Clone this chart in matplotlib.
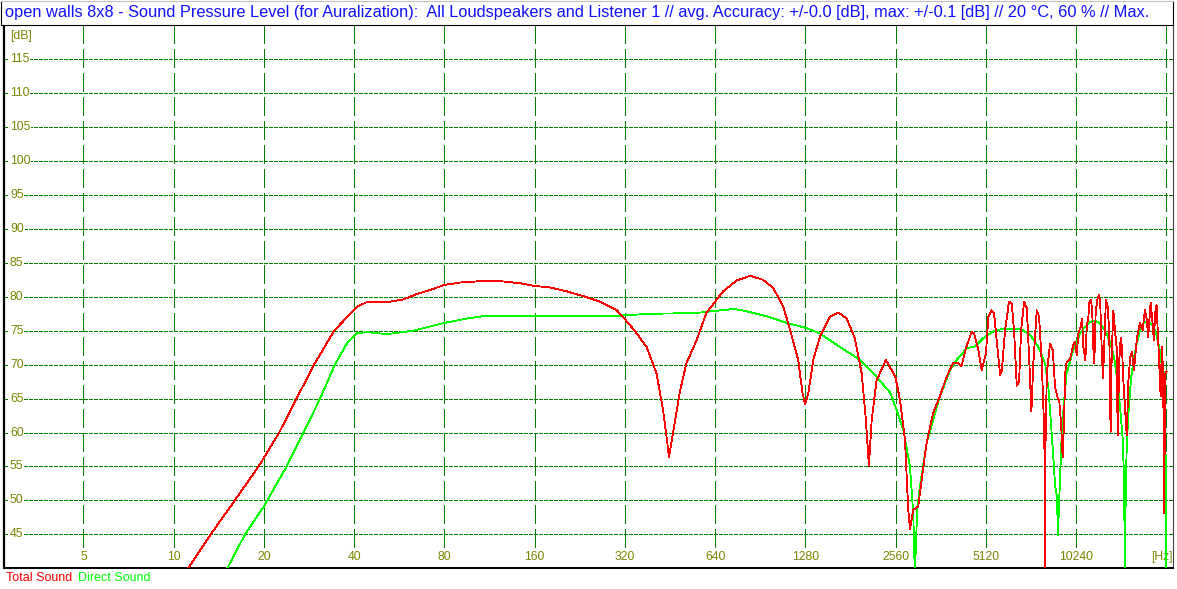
import numpy as np
import matplotlib
matplotlib.use("Agg")
import matplotlib.pyplot as plt

plt.rcParams['font.family'] = ['Liberation Sans', 'DejaVu Sans']
plt.rcParams['lines.scale_dashes'] = False

# --- data (Hz, dB) ---
total_freq = [11.0, 13.3, 16.0, 19.2, 22.5, 25.7, 29.4, 34.3, 40.8, 44.0,
              51.4, 58.3, 64.7, 71.6, 80, 90.2, 105, 123, 143, 160,
              179, 205, 232, 264, 301, 320, 345, 378, 408, 429,
              442, 449, 463, 487, 513, 555, 598, 640, 680, 755,
              837, 925, 1000, 1079, 1138, 1211, 1252, 1277, 1309, 1360,
              1431, 1548, 1648, 1757, 1871, 1972, 2037, 2085, 2129, 2212,
              2375, 2555, 2646, 2750, 2820, 2857, 2930, 3045, 3125, 3245,
              3411, 3593, 3787, 3982, 4138, 4246, 4393, 4590, 4674, 4830,
              4958, 5124, 5217, 5354, 5450, 5564, 5710, 5784, 5931, 6115,
              6243, 6357, 6490, 6606, 6708, 6865, 7010, 7150, 7260, 7370,
              7565, 7700, 7865, 7990, 8045, 8058, 8068, 8175, 8380, 8555,
              8710, 8865, 9000, 9130, 9230, 9330, 9410, 9515, 9760, 10016,
              10150, 10283, 10413, 10603, 10710, 10820, 10990, 11110, 11250, 11335,
              11485, 11590, 11680, 11770, 11895, 12045, 12200, 12320, 12455, 12580,
              12700, 12870, 13040, 13200, 13340, 13450, 13620, 13800, 13970, 14090,
              14260, 14420, 14560, 14710, 15100, 15300, 15500, 15700, 15970, 16220,
              16430, 16710, 17060, 17370, 17590, 17810, 18140, 18420, 18600, 18790,
              18990, 19230, 19380, 19590, 19780, 19980, 20130, 20290, 20525]
total_db = [39.5, 45.0, 50.0, 55.0, 60.0, 65.0, 70.0, 75.0, 78.5, 79.2,
            79.2, 79.6, 80.4, 81.0, 81.75, 82.1, 82.3, 82.3, 82.0, 81.6,
            81.4, 80.8, 80.1, 79.3, 78.0, 76.7, 75.0, 72.6, 68.7, 63.3,
            58.9, 56.4, 59.9, 65.8, 70.2, 73.6, 77.6, 79.3, 80.8, 82.4,
            83.1, 82.5, 81.3, 78.6, 75.1, 70.7, 65.8, 64.2, 65.8, 70.7,
            74.1, 77.1, 77.7, 76.8, 73.9, 68.7, 61.8, 55.1, 61.8, 67.7,
            70.7, 68.2, 64.8, 58.9, 48.6, 45.8, 48.6, 49.1, 53.0, 58.4,
            62.8, 65.3, 68.2, 70.2, 70.2, 69.8, 72.4, 74.9, 74.6, 72.2,
            69.2, 71.7, 77.1, 78.0, 77.6, 73.6, 68.5, 69.0, 75.0, 79.3,
            79.0, 75.0, 66.9, 67.5, 75.0, 79.3, 78.3, 70.2, 63.1, 70.2,
            78.0, 77.1, 70.2, 61.8, 55.2, 39.0, 55.0, 68.7, 73.1, 72.2,
            66.7, 65.3, 64.5, 61.0, 56.4, 61.4, 68.7, 70.4, 70.7, 72.9,
            73.4, 71.4, 74.6, 75.6, 76.8, 72.6, 70.7, 75.6, 77.1, 79.1,
            79.6, 77.6, 72.6, 70.2, 77.6, 79.6, 80.3, 79.1, 72.6, 68.0,
            72.6, 79.6, 78.6, 75.0, 60.1, 71.0, 78.0, 75.0, 72.6, 59.6,
            70.7, 73.9, 72.6, 67.7, 59.6, 67.7, 71.0, 71.9, 69.2, 72.6,
            74.6, 76.1, 75.1, 78.0, 76.8, 74.1, 79.1, 76.1, 73.6, 77.6,
            78.8, 73.6, 70.2, 65.3, 72.6, 68.7, 48.1, 68.7, 69.0]

direct_freq = [14.9, 17.3, 20, 23.8, 27.1, 30.8, 34.5, 37.8, 40.8, 44.0,
               51.4, 63, 79, 95, 110, 300, 390, 550, 664, 740,
               810, 955, 1100, 1290, 1431, 1669, 1947, 2212, 2460, 2580,
               2716, 2857, 2930, 2967, 3020, 3083, 3245, 3593, 3894, 4038,
               4418, 4712, 5020, 5425, 5845, 6656, 7200, 7665, 8065, 8285,
               8500, 8720, 8835, 8905, 9000, 9160, 9340, 9515, 9760, 10016,
               10283, 10550, 10965, 11390, 11825, 12290, 12775, 13270, 13690, 14050,
               14345, 14650, 14800, 14885, 15000, 15100, 15300, 15590, 15900, 16310,
               16830, 17370, 17810, 18420, 18990, 19440, 19800, 20270, 20480]
direct_db = [39.5, 45.0, 49.1, 55.0, 60.0, 65.0, 70.0, 73.1, 74.6, 74.8,
             74.5, 75.0, 76.1, 76.8, 77.2, 77.2, 77.5, 77.6, 78.0, 78.2,
             77.9, 77.1, 76.2, 75.4, 74.6, 72.6, 70.7, 68.2, 65.8, 63.3,
             60.4, 55.0, 48.1, 39.0, 48.6, 52.0, 58.4, 65.3, 69.2, 70.4,
             72.4, 72.7, 73.9, 74.9, 75.3, 75.3, 74.4, 72.6, 70.2, 66.3,
             59.4, 52.0, 50.5, 44.9, 50.5, 59.4, 64.8, 68.7, 70.4, 72.2,
             73.4, 74.6, 75.6, 76.3, 76.5, 76.1, 75.1, 73.4, 71.2, 67.7,
             63.8, 58.9, 52.7, 39.0, 52.7, 57.9, 62.8, 67.7, 70.7, 73.1,
             75.6, 76.3, 76.3, 75.8, 74.4, 72.2, 69.7, 68.2, 39.0]

grid_freqs = [5, 10, 20, 40, 80, 160, 320, 640, 1280, 2560, 5120, 10240, 20480]
freq_labels = ['5', '10', '20', '40', '80', '160', '320', '640', '1280', '2560', '5120', '10240', '']
db_ticks = [115, 110, 105, 100, 95, 90, 85, 80, 75, 70, 65, 60, 55, 50, 45]

title = ("open walls 8x8 - Sound Pressure Level (for Auralization):  All Loudspeakers and "
         "Listener 1 // avg. Accuracy: +/-0.0 [dB], max: +/-0.1 [dB] // 20 \u00b0C, 60 % // Max.")

W, H = 1177, 589
grid_c = '#008000'
lab_c = '#7a8500'

fig = plt.figure(figsize=(W / 100, H / 100), dpi=100)

# pixel layout of the plot area
px_left, px_right, px_top, px_bot = 4, 1173, 25.4, 568.2
ax = fig.add_axes([px_left / W, (H - px_bot) / H, (px_right - px_left) / W, (px_bot - px_top) / H])

def f_of_px(x):
    return 5 * 2 ** ((x - 83.4) / 90.25)

ax.set_xscale('log', base=2)
ax.set_xlim(f_of_px(px_left), f_of_px(px_right))
ax.set_ylim(40, 120)
ax.set_xticks([])
ax.set_yticks([])
ax.minorticks_off()
for s in ['top', 'bottom']:
    ax.spines[s].set_color('black')
    ax.spines[s].set_linewidth(1.4)
ax.spines['left'].set_linewidth(1.6)
ax.spines['right'].set_color('#404040')
ax.spines['right'].set_linewidth(0.8)

# horizontal dotted grid
for d in db_ticks:
    ax.axhline(d, color=grid_c, lw=0.75, dashes=(2.2, 1.4), antialiased=False, zorder=1)
    ax.text(6 / (px_right - px_left), d, str(d), transform=ax.get_yaxis_transform(),
            ha='left', va='center', color=lab_c, fontsize=8.7, zorder=3,
            bbox=dict(facecolor='white', edgecolor='none', pad=0.6))

# vertical dashed grid, stops above the frequency labels
y_stop = 40 + (568.2 - 547) / 6.786
for f, lab in zip(grid_freqs, freq_labels):
    ax.plot([f, f], [120, y_stop], color=grid_c, lw=0.75, dashes=(13.5, 4.2),
            antialiased=False, zorder=1)
    if lab:
        ax.text(f, 40 + (568.2 - 557) / 6.786, lab, ha='center', va='center',
                color=lab_c, fontsize=8.7, zorder=3)

ax.text(f_of_px(1162), 40 + (568.2 - 557) / 6.786, '[Hz]', ha='center', va='center',
        color=lab_c, fontsize=8.7, zorder=3)
ax.text(6 / (px_right - px_left), 120 - (36.5 - 25.4) / 6.786, '[dB]',
        transform=ax.get_yaxis_transform(), ha='left', va='center', color=lab_c, fontsize=8.7)

ax.plot(direct_freq, direct_db, color='#00ff00', lw=0.6, antialiased=False, zorder=4)
ax.plot(total_freq, total_db, color='#ff0000', lw=0.6, antialiased=False, zorder=5)

# title bar
tax = fig.add_axes([1 / W, (H - 25) / H, (px_right - 1) / W, 24.5 / H])
tax.set_xticks([])
tax.set_yticks([])
for s in tax.spines.values():
    s.set_color('black')
    s.set_linewidth(0.8)
tax.spines['top'].set_color('#c0c0c0')
tax.set_xlim(0, px_right - 1)
tax.set_ylim(0, 24.5)
tax.text(4, 12.3, title, ha='left', va='center', color='#1010ff', fontsize=11.8)

# legend line under the plot
fig.text(6 / W, (H - 578) / H, 'Total Sound', color='#ff0000', fontsize=9, ha='left', va='center')
fig.text(78 / W, (H - 578) / H, 'Direct Sound', color='#00ff00', fontsize=9, ha='left', va='center')

fig.savefig('out.png', dpi=100)
